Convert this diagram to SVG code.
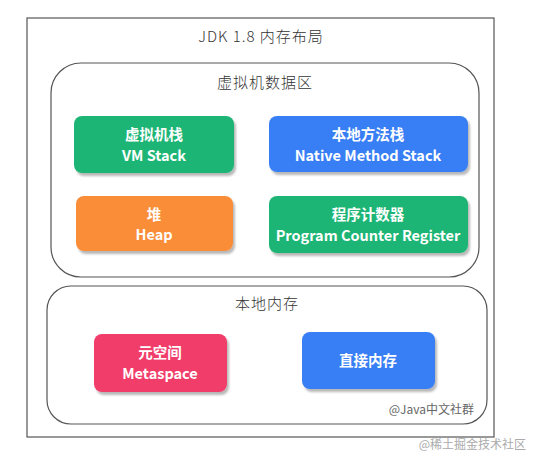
<svg xmlns="http://www.w3.org/2000/svg" width="538" height="464" viewBox="0 0 538 464">
<defs>
<filter id="sh" x="-10%" y="-10%" width="125%" height="130%">
<feDropShadow dx="2" dy="3" stdDeviation="1.2" flood-color="#000" flood-opacity="0.28"/>
</filter>
<style>
.frame{fill:#fff;stroke:#555;stroke-width:1.2}
.grp{fill:none;stroke:#555;stroke-width:1.2}
.hd{font-family:"Noto Sans CJK SC","DejaVu Sans",sans-serif;font-size:15px;fill:#333;text-anchor:middle;font-weight:300;letter-spacing:1px}
.nt{font-family:"Noto Sans CJK SC","DejaVu Sans",sans-serif;font-size:14.5px;fill:#fff;text-anchor:middle;font-weight:bold}
.green{fill:#1fb575}
.blue{fill:#377ef5}
.orange{fill:#f98d39}
.pink{fill:#f13d6b}
.wm{font-family:"Noto Sans CJK SC",sans-serif;font-size:12px;text-anchor:end}
</style>
</defs>
<rect width="538" height="464" fill="#fff"/>
<g id="outer">
<rect class="frame" x="27" y="18" width="467" height="419"/>
<text class="hd" x="261" y="42">JDK 1.8 内存布局</text>
</g>
<g id="jvm-area">
<rect class="grp" x="51" y="63" width="428" height="214" rx="30"/>
<text class="hd" x="265" y="88">虚拟机数据区</text>
</g>
<g id="native-area">
<rect class="grp" x="47" y="286" width="440" height="138" rx="24"/>
<text class="hd" x="267" y="309">本地内存</text>
</g>
<g id="vm-stack">
<rect class="green" x="74" y="116" width="160" height="57" rx="8" filter="url(#sh)"/>
<text class="nt" x="154" y="140">虚拟机栈</text>
<text class="nt" x="154" y="161">VM Stack</text>
</g>
<g id="native-method-stack">
<rect class="blue" x="269" y="116" width="199" height="56" rx="8" filter="url(#sh)"/>
<text class="nt" x="368" y="140">本地方法栈</text>
<text class="nt" x="368" y="161">Native Method Stack</text>
</g>
<g id="heap">
<rect class="orange" x="76" y="196" width="157" height="55" rx="8" filter="url(#sh)"/>
<text class="nt" x="154" y="220">堆</text>
<text class="nt" x="154" y="240">Heap</text>
</g>
<g id="pc-register">
<rect class="green" x="269" y="196" width="199" height="57" rx="8" filter="url(#sh)"/>
<text class="nt" x="368" y="220">程序计数器</text>
<text class="nt" x="368" y="241">Program Counter Register</text>
</g>
<g id="metaspace">
<rect class="pink" x="94" y="334" width="133" height="58" rx="8" filter="url(#sh)"/>
<text class="nt" x="160" y="358">元空间</text>
<text class="nt" x="160" y="379">Metaspace</text>
</g>
<g id="direct-memory">
<rect class="blue" x="302" y="332" width="133" height="57" rx="8" filter="url(#sh)"/>
<text class="nt" x="368" y="366">直接内存</text>
</g>
<g id="connectors"></g>
<text class="wm" x="474" y="414" fill="#666">@Java中文社群</text>
<text class="wm" x="526" y="449" fill="#aaa">@稀土掘金技术社区</text>
</svg>
